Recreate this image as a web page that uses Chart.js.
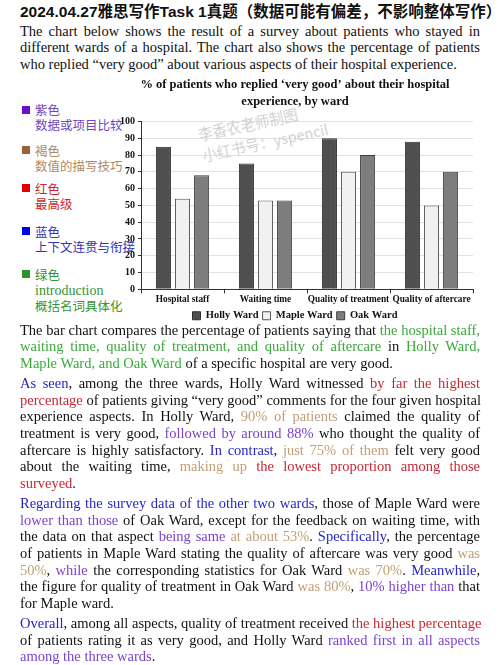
<!DOCTYPE html>
<html>
<head>
<meta charset="utf-8">
<script src="https://cdn.jsdelivr.net/npm/chart.js"></script>
<style>
  body { margin: 0; background: #fff; width: 500px; height: 665px; position: relative; overflow: hidden; }
  .hdr { position: absolute; left: 20px; top: 3px; width: 470px; font: bold 15.5px "Liberation Sans", "Noto Sans CJK SC", sans-serif; line-height: 18px; white-space: nowrap; color: #111; }
  .para { position: absolute; left: 20px; width: 460px; font-family: "Liberation Serif", serif; font-size: 14.5px; line-height: 16.67px; color: #111; }
  .para div { text-align: justify; text-align-last: justify; white-space: nowrap; }
  .para div.last { text-align-last: left; }
  .g { color: #3aa83a; }
  .b { color: #2626c4; }
  .r { color: #c42836; }
  .br { color: #c29e74; }
  .p { color: #7a42cc; }
  .notes { position: absolute; left: 0; top: 0; font-family: "Noto Sans CJK SC", "Liberation Serif", serif; font-size: 12.5px; line-height: 15px; }
  .note { position: absolute; left: 35px; white-space: nowrap; }
  .sq { position: absolute; left: 22px; width: 8px; height: 8px; }
  .en { font-family: "Liberation Serif", serif; font-size: 14px; }
  #wrap { position: absolute; left: 117px; top: 75px; width: 368px; height: 256px; }
  .wm { position: absolute; left: 196px; top: 124px; transform: rotate(-12deg); transform-origin: left top; color: #cdcdcd; font: 14.5px "Noto Sans CJK SC", sans-serif; line-height: 21px; pointer-events: none; white-space: nowrap; }
</style>
</head>
<body>
<div class="hdr">2024.04.27雅思写作Task 1真题（数据可能有偏差，不影响整体写作）</div>

<div class="para" style="top:22.7px">
  <div>The chart below shows the result of a survey about patients who stayed in</div>
  <div>different wards of a hospital. The chart also shows the percentage of patients</div>
  <div class="last">who replied “very good” about various aspects of their hospital experience.</div>
</div>

<div class="notes">
  <div class="sq" style="top:106px;background:#6a10d0"></div>
  <div class="note" style="top:101.5px;color:#7246c0">紫色<br>数据或项目比较</div>
  <div class="sq" style="top:146px;background:#9a6234"></div>
  <div class="note" style="top:142.5px;color:#b08a62">褐色<br>数值的描写技巧</div>
  <div class="sq" style="top:184px;background:#e00000"></div>
  <div class="note" style="top:180.5px;color:#d02626">红色<br>最高级</div>
  <div class="sq" style="top:227px;background:#0000e0"></div>
  <div class="note" style="top:223.5px;color:#3434b4">蓝色<br>上下文连贯与衔接</div>
  <div class="sq" style="top:270px;background:#2a9432"></div>
  <div class="note" style="top:266.5px;color:#339433">绿色<br><span class="en">introduction</span><br>概括名词具体化</div>
</div>

<div id="wrap"><canvas id="myChart"></canvas></div>
<div class="wm">李香农老师制图<br>小红书号：yspencil</div>

<div class="para" style="top:321.7px">
  <div>The bar chart compares the percentage of patients saying that <span class="g">the hospital staff,</span></div>
  <div><span class="g">waiting time, quality of treatment, and quality of aftercare</span> in <span class="g">Holly Ward,</span></div>
  <div class="last"><span class="g">Maple Ward, and Oak Ward</span> of a specific hospital are very good.</div>
</div>

<div class="para" style="top:375px">
  <div><span class="b">As seen</span>, among the three wards, Holly Ward witnessed <span class="r">by far the highest</span></div>
  <div><span class="r">percentage</span> of patients giving “very good” comments for the four given hospital</div>
  <div>experience aspects. In Holly Ward, <span class="br">90% of patients</span> claimed the quality of</div>
  <div>treatment is very good, <span class="p">followed by around 88%</span> who thought the quality of</div>
  <div>aftercare is highly satisfactory. <span class="b">In contrast</span>, <span class="br">just 75% of them</span> felt very good</div>
  <div>about the waiting time, <span class="br">making up</span> <span class="r">the lowest proportion among those</span></div>
  <div class="last"><span class="r">surveyed</span>.</div>
</div>

<div class="para" style="top:495px">
  <div><span class="b">Regarding the survey data of the other two wards</span>, those of Maple Ward were</div>
  <div><span class="p">lower than those</span> of Oak Ward, except for the feedback on waiting time, with</div>
  <div>the data on that aspect <span class="p">being same</span> <span class="br">at about 53%</span>. <span class="b">Specifically</span>, the percentage</div>
  <div>of patients in Maple Ward stating the quality of aftercare was very good <span class="br">was</span></div>
  <div><span class="br">50%</span>, <span class="p">while</span> the corresponding statistics for Oak Ward <span class="br">was 70%</span>. <span class="b">Meanwhile</span>,</div>
  <div>the figure for quality of treatment in Oak Ward <span class="br">was 80%</span>, <span class="p">10% higher than</span> that</div>
  <div class="last">for Maple ward.</div>
</div>

<div class="para" style="top:615px">
  <div><span class="b">Overall</span>, among all aspects, quality of treatment received <span class="r">the highest percentage</span></div>
  <div>of patients rating it as very good, and Holly Ward <span class="p">ranked first in all aspects</span></div>
  <div class="last"><span class="p">among the three wards</span>.</div>
</div>

<script>
// chart data
const categories = ["Hospital staff", "Waiting time", "Quality of treatment", "Quality of aftercare"];
const hollyWard = [85, 75, 90, 88];
const mapleWard = [54, 53, 70, 50];
const oakWard = [68, 53, 80, 70];
const yTickMin = 0;
const yTickMax = 100;
const yTickStep = 10;

const serif = "'Liberation Serif', 'Times New Roman', serif";

new Chart("myChart", {
    type: "bar",
    data: {
        labels: categories,
        datasets: [
            { label: "Holly Ward", data: hollyWard, backgroundColor: "#4f4f4f", borderColor: "#2e2e2e", borderWidth: 1 },
            { label: "Maple Ward", data: mapleWard, backgroundColor: "#f1f1f1", borderColor: "#555555", borderWidth: 1 },
            { label: "Oak Ward", data: oakWard, backgroundColor: "#7d7d7d", borderColor: "#3e3e3e", borderWidth: 1 }
        ]
    },
    options: {
        responsive: true,
        maintainAspectRatio: false,
        animation: false,
        categoryPercentage: 0.69,
        barPercentage: 0.79,
        layout: { padding: { left: 0, right: 12, top: 0, bottom: 0 } },
        plugins: {
            title: {
                display: true,
                text: ["% of patients who replied ‘very good’ about their hospital", "experience, by ward"],
                color: "#111",
                font: { family: serif, size: 12.5, weight: "bold", lineHeight: 1.3 },
                padding: { top: 2, bottom: 12 }
            },
            legend: {
                position: "bottom",
                labels: {
                    color: "#111",
                    boxWidth: 8,
                    boxHeight: 8,
                    padding: 4,
                    font: { family: serif, size: 10.5, weight: "bold" }
                }
            },
            tooltip: { enabled: false }
        },
        scales: {
            x: {
                grid: { display: true, drawOnChartArea: false, drawTicks: true, tickLength: 4, tickColor: "#333", offset: true },
                border: { display: true, color: "#333", width: 1 },
                ticks: { color: "#111", maxRotation: 0, autoSkip: false, padding: 1, font: { family: serif, size: 9.3, weight: "bold" } }
            },
            y: {
                min: yTickMin,
                max: yTickMax,
                grid: { color: "#e2e2e2", tickColor: "#333", tickLength: 3 },
                border: { display: true, color: "#333", width: 1 },
                ticks: { stepSize: yTickStep, color: "#111", padding: 3, font: { family: serif, size: 10, weight: "bold" } }
            }
        }
    }
});
</script>
</body>
</html>
